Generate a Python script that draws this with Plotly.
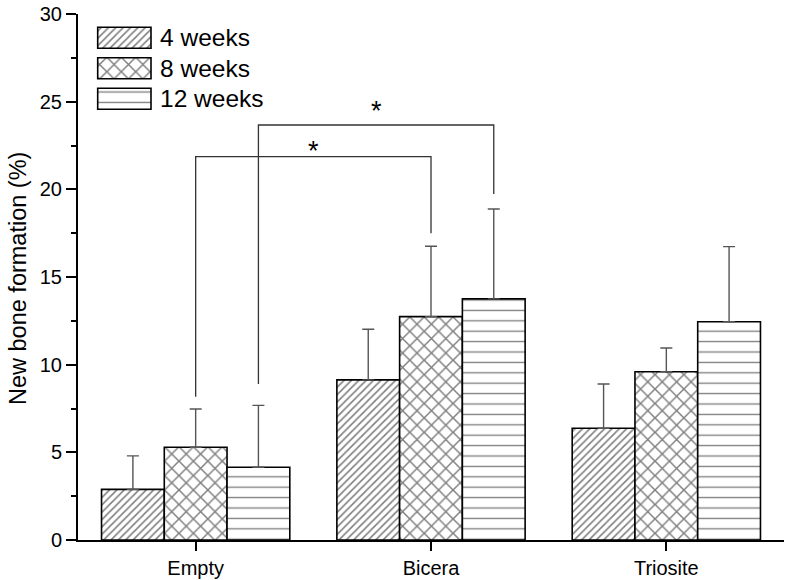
import plotly.graph_objects as go

# ---------------- data ----------------
categories = ["Empty", "Bicera", "Triosite"]
series_names = ["4 weeks", "8 weeks", "12 weeks"]
means_4wk = [2.89, 9.13, 6.37]
sd_4wk = [1.91, 2.89, 2.53]
means_8wk = [5.29, 12.74, 9.60]
sd_8wk = [2.18, 4.01, 1.35]
means_12wk = [4.15, 13.75, 12.45]
sd_12wk = [3.53, 5.13, 4.28]

y_ticks = [0, 5, 10, 15, 20, 25, 30]

# significance comparisons
sig_series = ["8 weeks", "12 weeks"]
sig_group_a = ["Empty", "Empty"]
sig_group_b = ["Bicera", "Bicera"]
sig_height = [21.86, 23.67]
sig_leg_a = [8.17, 8.90]
sig_leg_b = [17.50, 19.74]
sig_label = ["*", "*"]
sig_label_y = [22.19, 24.47]

# ---------------- style ----------------
FONT = "Arial, Liberation Sans, sans-serif"
patterns = [
    dict(shape="/", size=5.2, solidity=0.3),
    dict(shape="x", size=10.2, solidity=0.27),
    dict(shape="-", size=10.4, solidity=0.13),
]
BARGAP = 0.2

means = [means_4wk, means_8wk, means_12wk]
sds = [sd_4wk, sd_8wk, sd_12wk]

fig = go.Figure()
for i, name in enumerate(series_names):
    fig.add_trace(go.Bar(
        x=categories, y=means[i], name=name,
        marker=dict(color="white", line=dict(color="black", width=1.6),
                    pattern=dict(fgcolor="black", bgcolor="white", **patterns[i])),
        error_y=dict(type="data", array=sds[i], arrayminus=[0] * len(categories),
                     symmetric=False, color="#555555", thickness=1.4, width=6),
        showlegend=False,
    ))

# ---- significance brackets ----
bar_w = (1 - BARGAP) / len(series_names)
def xpos(cat, series):
    return categories.index(cat) + (series_names.index(series) - (len(series_names) - 1) / 2) * bar_w

for s, a, b, h, la, lb, lab, ly in zip(sig_series, sig_group_a, sig_group_b, sig_height,
                                        sig_leg_a, sig_leg_b, sig_label, sig_label_y):
    xa, xb = xpos(a, s), xpos(b, s)
    fig.add_shape(type="path", xref="x", yref="y",
                  path=f"M {xa},{la} L {xa},{h} L {xb},{h} L {xb},{lb}",
                  line=dict(color="#333333", width=1.3))
    fig.add_annotation(x=(xa + xb) / 2, y=ly, xref="x", yref="y", text=lab,
                       showarrow=False, font=dict(family=FONT, size=27, color="black"),
                       yanchor="middle")

# ---- custom legend with patterned swatches (overlay axis in pixel units) ----
PLOT_W, PLOT_H = 706, 526
leg_x0, leg_len, leg_h = 19.7, 53.3, 21
leg_rows = [23.8, 54.3, 84.8]
for i, name in enumerate(series_names):
    fig.add_trace(go.Bar(
        x=[leg_len], y=[leg_rows[i]], base=[leg_x0], orientation="h", width=[leg_h],
        xaxis="x2", yaxis="y2", showlegend=False, hoverinfo="skip",
        marker=dict(color="white", line=dict(color="black", width=1.6),
                    pattern=dict(fgcolor="black", bgcolor="white", **patterns[i])),
    ))
    fig.add_annotation(x=leg_x0 + leg_len + 7, y=leg_rows[i], xref="x2", yref="y2",
                       text=name, showarrow=False, xanchor="left", yanchor="middle",
                       font=dict(family=FONT, size=24.5, color="black"))

fig.update_layout(
    width=786, height=580,
    margin=dict(l=78, r=2, t=14, b=40),
    paper_bgcolor="white", plot_bgcolor="white",
    barmode="group", bargap=BARGAP, bargroupgap=0,
    font=dict(family=FONT, color="black"),
    xaxis=dict(range=[-0.5, 2.5], showline=True, linecolor="black", linewidth=2,
               ticks="outside", ticklen=9, tickwidth=2, tickcolor="black",
               tickfont=dict(size=20), showgrid=False, zeroline=False),
    yaxis=dict(range=[0, 30], tickvals=y_ticks, showline=True, linecolor="black", linewidth=2,
               ticks="outside", ticklen=10, tickwidth=2, tickcolor="black",
               ticklabeloverflow="allow",
               minor=dict(dtick=2.5, ticks="outside", ticklen=5, tickwidth=2, tickcolor="black"),
               tickfont=dict(size=20), showgrid=False, zeroline=False),
    xaxis2=dict(range=[0, PLOT_W], overlaying="x", anchor="y2", visible=False, fixedrange=True),
    yaxis2=dict(range=[PLOT_H, 0], overlaying="y", anchor="x2", visible=False, fixedrange=True),
)

fig.add_annotation(text="New bone formation (%)", xref="paper", yref="paper",
                   x=(18 - 78) / PLOT_W, y=(540 - 279) / PLOT_H, textangle=-90,
                   showarrow=False, xanchor="center", yanchor="middle",
                   font=dict(family=FONT, size=23.5, color="black"))

# remove the default 8px page margin so the figure fills the window exactly
fig.write_html("out.html", config={"displayModeBar": False},
               post_script="document.body.style.margin='0';")
